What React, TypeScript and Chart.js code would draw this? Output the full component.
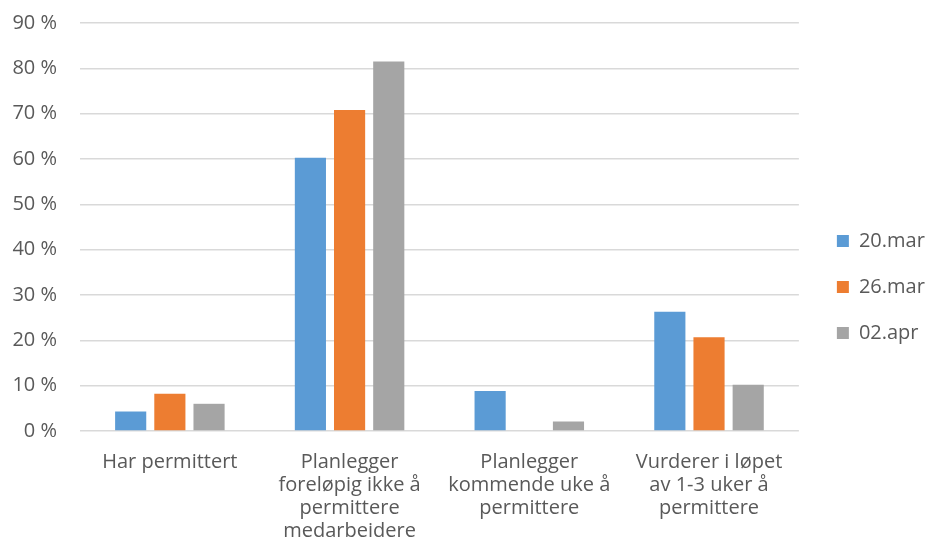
import React, { useEffect, useRef } from "react";
import { Chart, registerables } from "chart.js";

Chart.register(...registerables);

const categories: string[][] = [
  ["Har permittert"],
  ["Planlegger", "foreløpig ikke å", "permittere", "medarbeidere"],
  ["Planlegger", "kommende uke å", "permittere"],
  ["Vurderer i løpet", "av 1-3 uker å", "permittere"],
];
const seriesNames = ["20.mar", "26.mar", "02.apr"];
const mar20 = [4.3, 60.3, 8.8, 26.3];
const mar26 = [8.2, 70.8, 0, 20.7];
const apr02 = [6.0, 81.5, 2.1, 10.2];
const colors = ["#5b9bd5", "#ed7d31", "#a5a5a5"];

const shiftLegend = {
  id: "shiftLegend",
  afterLayout(chart: any) {
    const l = chart.legend;
    if (!l) return;
    l.left += 12;
    l.right += 12;
    l.top -= 4;
    l.bottom -= 4;
  },
};

export default function App() {
  const ref = useRef<HTMLCanvasElement | null>(null);
  useEffect(() => {
    document.body.style.margin = "0";
    const family = "'Open Sans', sans-serif";
    const font = { family, size: 20, lineHeight: 1.15 };
    const chart = new Chart(ref.current!, {
      type: "bar",
      data: {
        labels: categories,
        datasets: [mar20, mar26, apr02].map((d, i) => ({
          label: seriesNames[i],
          data: d,
          backgroundColor: colors[i],
          categoryPercentage: 0.654,
          barPercentage: 0.795,
        })),
      },
      plugins: [shiftLegend],
      options: {
        animation: false,
        responsive: false,
        layout: { padding: { top: 23, right: 0, left: 0, bottom: 0 } },
        plugins: {
          tooltip: { enabled: false },
          legend: {
            position: "right",
            labels: {
              boxWidth: 12,
              boxHeight: 12,
              padding: 26,
              color: "#595959",
              font,
              generateLabels: (c: any) =>
                (Chart.defaults.plugins.legend.labels.generateLabels as any)(c).map((l: any) => ({
                  ...l,
                  text: l.text + " ",
                })),
            },
          },
        },
        scales: {
          x: {
            afterFit: (s: any) => {
              s.height = 128;
            },
            grid: { display: false, drawTicks: false },
            border: { display: false },
            ticks: {
              color: "#595959",
              font,
              padding: 20,
              maxRotation: 0,
              autoSkip: false,
            },
          },
          y: {
            min: 0,
            max: 90,
            afterFit: (s: any) => {
              s.width = 80;
              s.paddingTop = 0;
              s.paddingBottom = 0;
            },
            border: { display: false },
            grid: { color: "#d9d9d9", lineWidth: 1.5, drawTicks: false },
            ticks: {
              stepSize: 10,
              padding: 23,
              color: "#595959",
              font,
              callback: (v: any) => v + " %",
            },
          },
        },
      },
    });
    return () => chart.destroy();
  }, []);
  return <canvas ref={ref} width={928} height={559} style={{ display: "block" }} />;
}
